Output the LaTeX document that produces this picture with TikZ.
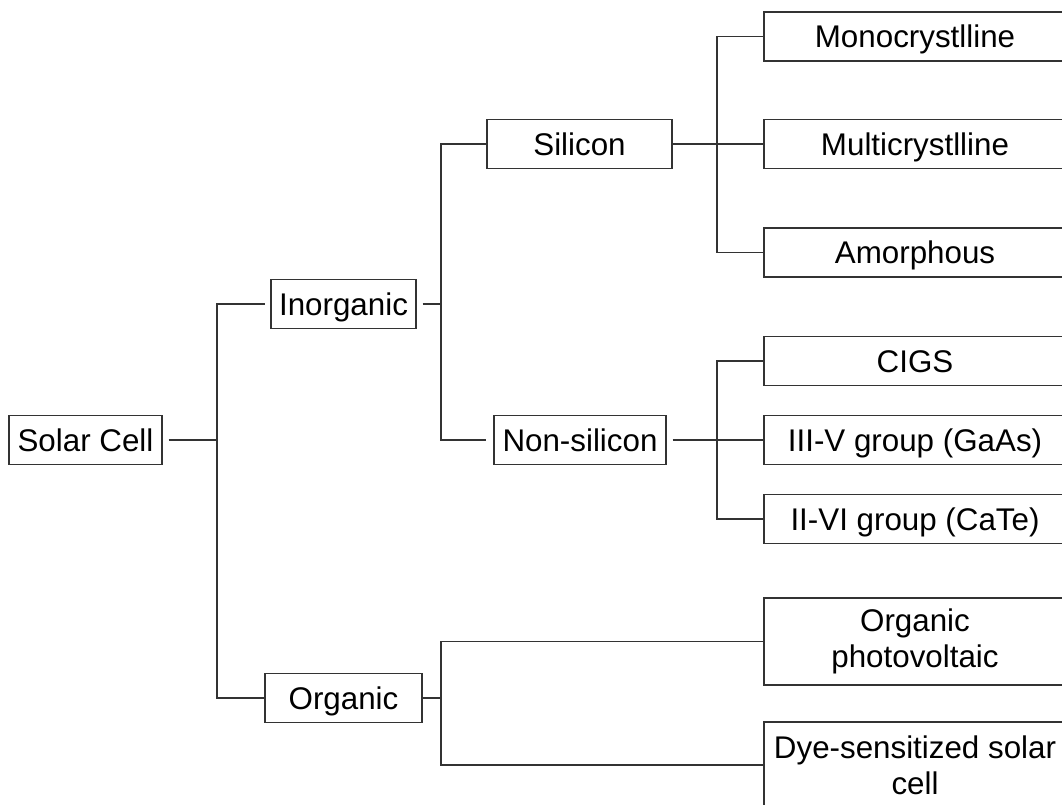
\documentclass[tikz,border=0pt]{standalone}
\usepackage{fontspec}
\setmainfont{Liberation Sans}
\begin{document}
\begin{tikzpicture}[x=0.75pt,y=-0.75pt,
  line width=1.1pt,
  conn/.style={draw=black!80},
  basebox/.style={draw=black!80, rectangle, inner sep=0pt, align=center,
    minimum height=49*0.75pt, font=\fontsize{23.5}{27}\selectfont},
  box/.style={basebox, text height=16.8pt, text depth=0pt},
  leaf/.style={box, minimum width=302*0.75pt},
  tallleaf/.style={basebox, minimum width=302*0.75pt}]
\clip (0,0) rectangle (1062,805);
\fill[white] (0,0) rectangle (1062,805);

% nodes
\node[box, minimum width=153*0.75pt] (sc) at (85.5,440) {Solar Cell};
\node[box, minimum width=145*0.75pt] (inorg) at (343.5,304) {Inorganic};
\node[box, minimum width=157*0.75pt] (org) at (343.5,698) {Organic};
\node[box, minimum width=185*0.75pt] (sil) at (579.5,144) {Silicon};
\node[box, minimum width=172*0.75pt] (nonsil) at (580,440) {Non-silicon};

\node[leaf] (mono) at (915,36.5) {Monocrystlline};
\node[leaf] (multi) at (915,144) {Multicrystlline};
\node[leaf] (amor) at (915,252.5) {Amorphous};
\node[leaf] (cigs) at (915,361) {CIGS};
\node[leaf] (three) at (915,440) {III-V group (GaAs)};
\node[leaf] (two) at (915,519) {II-VI group (CaTe)};
\node[tallleaf, minimum height=87*0.75pt] (opv) at (915,641.5) {Organic\\photovoltaic};
\node[tallleaf, minimum height=86*0.75pt] (dye) at (915,765) {Dye-sensitized solar\\cell};

% junctions
\coordinate (j1) at (217,440);
\coordinate (j2) at (441,304);
\coordinate (j3) at (717,144);
\coordinate (j4) at (717,440);
\coordinate (j5) at (441,698);

% connectors
\draw[conn, shorten <=4.5pt] (sc.east) -- (j1);
\draw[conn, shorten >=3.75pt] (j1) |- (inorg.west);
\draw[conn] (j1) |- (org.west);

\draw[conn, shorten <=4.5pt] (inorg.east) -- (j2);
\draw[conn] (j2) |- (sil.west);
\draw[conn, shorten >=5.25pt] (j2) |- (nonsil.west);

\draw[conn] (sil.east) -- (j3);
\draw[conn] (j3) |- (mono.west);
\draw[conn] (j3) -- (multi.west);
\draw[conn] (j3) |- (amor.west);

\draw[conn, shorten <=4.5pt] (nonsil.east) -- (j4);
\draw[conn] (j4) |- (cigs.west);
\draw[conn] (j4) -- (three.west);
\draw[conn] (j4) |- (two.west);

\draw[conn] (org.east) -- (j5);
\draw[conn] (j5) |- (opv.west);
\draw[conn] (j5) |- (dye.west);
\end{tikzpicture}
\end{document}
